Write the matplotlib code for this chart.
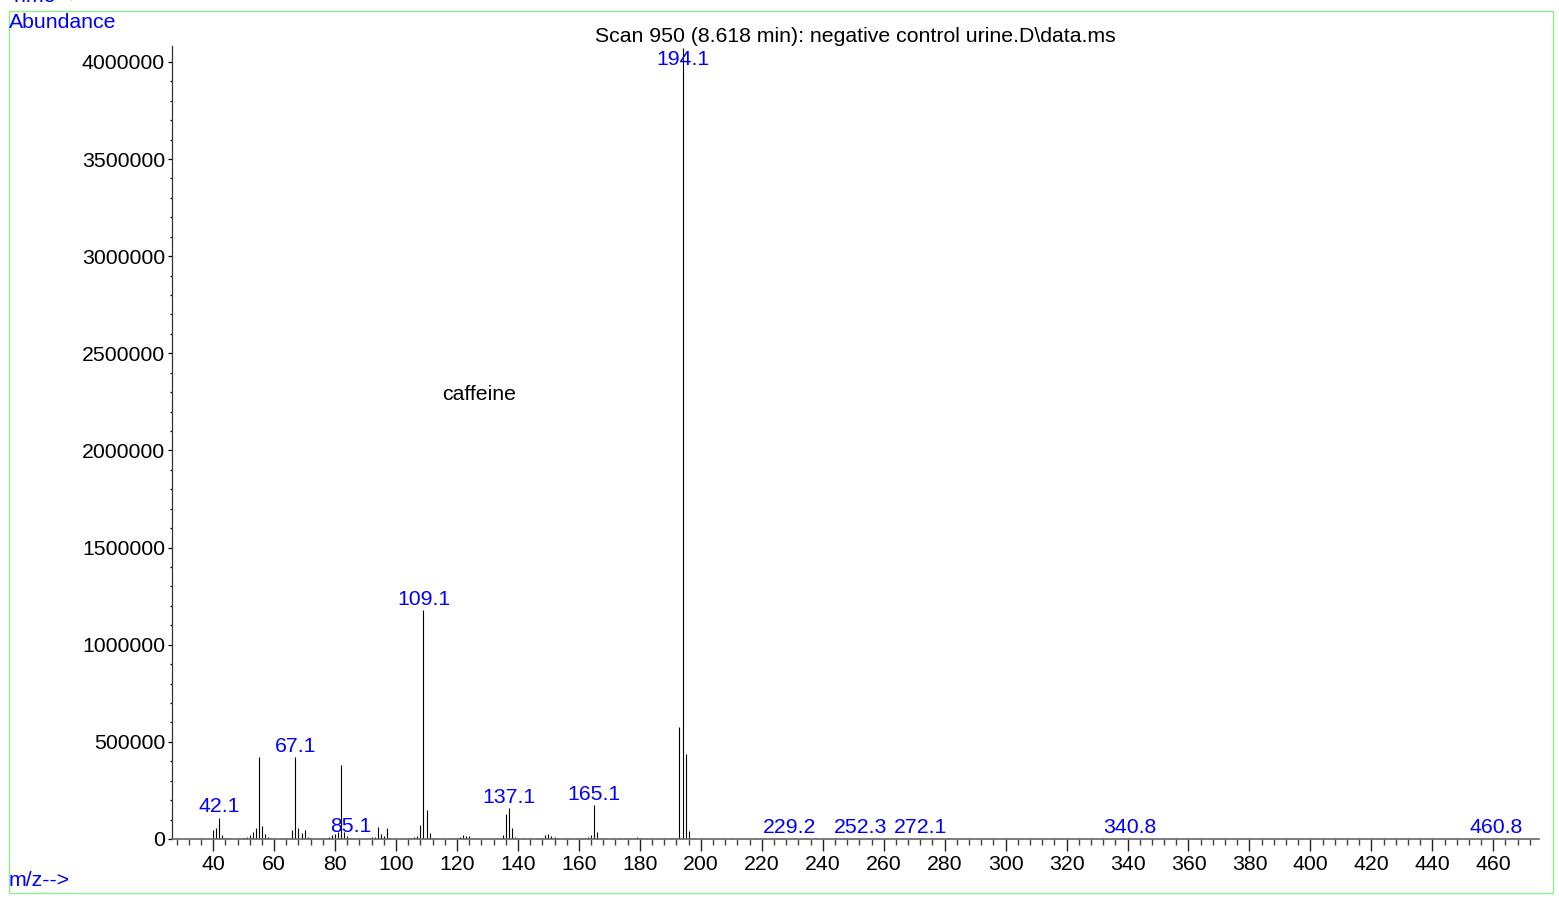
import matplotlib.pyplot as plt
from matplotlib.patches import Rectangle
from matplotlib.ticker import MultipleLocator, FormatStrFormatter

plt.rcParams['font.family'] = ['Liberation Sans', 'DejaVu Sans']

title = 'Scan 950 (8.618 min): negative control urine.D\\data.ms'

# main ion peaks (m/z, abundance)
mz = [40, 41, 42, 43,
      52, 53, 54, 55, 56, 57, 58,
      66, 67, 68, 69, 70, 71,
      78, 79, 80, 81, 82, 83, 84, 85,
      93, 94, 95, 96, 97,
      107, 108, 109, 110, 111,
      121, 122, 123, 124,
      135, 136, 137, 138, 139,
      149, 150, 151, 152,
      163, 164, 165, 166,
      179,
      193, 194, 195, 196,
      229.2, 252.3, 272.1, 340.8, 460.8]
abundance = [46000, 58000, 110000, 21000,
             22000, 38000, 57000, 422000, 67000, 26000, 12000,
             48000, 422000, 58000, 32000, 48000, 12000,
             12000, 20000, 26000, 38000, 381000, 38000, 15000, 6000,
             12000, 60000, 26000, 15000, 57000,
             15000, 74000, 1179000, 148000, 30000,
             10000, 22000, 15000, 18000,
             20000, 129000, 160000, 57000, 12000,
             19000, 26000, 15000, 12000,
             10000, 19000, 173000, 38000,
             8000,
             576000, 4070000, 438000, 42000,
             4000, 4000, 4000, 3000, 3000]

# small baseline noise peaks
noise_mz = [44, 45, 46, 48, 50, 51, 59, 60, 62, 64, 65, 72, 74, 76, 77,
            86, 88, 90, 91, 92, 98, 100, 102, 104, 105, 106,
            112, 113, 115, 117, 119, 120, 125, 127, 129, 131, 133, 134,
            140, 142, 144, 146, 148, 153, 155, 157, 159, 161, 162,
            167, 169, 171, 173, 175, 177, 178, 180, 182, 184, 186, 188, 190, 191, 192,
            198, 200, 203, 205, 207, 210, 213, 215, 218, 221, 223, 226,
            231, 235, 238, 241, 244, 247, 255, 258, 263, 267, 276, 281]
noise_ab = [6000, 5000, 4000, 5000, 4000, 8000, 6000, 4000, 5000, 4000, 7000, 6000, 5000, 4000, 7000,
            6000, 5000, 4000, 6000, 8000, 5000, 4000, 5000, 4000, 6000, 9000,
            7000, 5000, 4000, 6000, 5000, 7000, 6000, 5000, 4000, 5000, 4000, 7000,
            6000, 5000, 4000, 5000, 7000, 6000, 5000, 4000, 5000, 4000, 6000,
            6000, 5000, 4000, 5000, 4000, 5000, 6000, 5000, 4000, 5000, 4000, 5000, 4000, 6000, 7000,
            5000, 4000, 5000, 4000, 5000, 4000, 5000, 4000, 4000, 5000, 4000, 5000,
            4000, 5000, 4000, 4000, 5000, 4000, 4000, 5000, 4000, 4000, 4000, 4000]

# labelled peaks: label text, m/z position, abundance of the peak
label_text = ['42.1', '67.1', '85.1', '109.1', '137.1', '165.1', '194.1',
              '229.2', '252.3', '272.1', '340.8', '460.8']
label_mz = [42, 67, 85, 109, 137, 165, 194.2, 229.2, 252.3, 272.1, 340.8, 460.8]
label_ab = [110000, 422000, 6000, 1179000, 160000, 173000, 4070000,
            4000, 4000, 4000, 3000, 3000]

fs = 15.3

fig = plt.figure(figsize=(15.59, 8.99), dpi=100)
ax = fig.add_axes([172/1559, 60/899, 1367/1559, 793/899])

ax.vlines(noise_mz, 0, noise_ab, color='black', lw=0.8)
ax.vlines(mz, 0, abundance, color='black', lw=0.8)

ymax = 4082000
ax.set_xlim(26.5, 475)
ax.set_ylim(0, ymax)

for t, x, y in zip(label_text, label_mz, label_ab):
    if y > 0.95 * ymax:
        ax.text(x, 4010000, t, color='blue', fontsize=fs, ha='center', va='center')
    else:
        ax.annotate(t, (x, y), xytext=(0, 1), textcoords='offset points',
                    color='blue', fontsize=fs, ha='center', va='bottom')

ax.text(127.3, 2290000, 'caffeine', color='black', fontsize=fs, ha='center', va='center')

ax.spines['top'].set_visible(False)
ax.spines['right'].set_visible(False)
ax.spines['left'].set_color('#333333')
ax.spines['bottom'].set_color('#666666')
ax.spines['left'].set_linewidth(0.9)
ax.spines['bottom'].set_linewidth(1.2)

ax.xaxis.set_major_locator(MultipleLocator(20))
ax.xaxis.set_minor_locator(MultipleLocator(4))
ax.yaxis.set_major_locator(MultipleLocator(500000))
ax.yaxis.set_minor_locator(MultipleLocator(100000))
ax.yaxis.set_major_formatter(FormatStrFormatter('%d'))
ax.set_xticks(range(40, 461, 20))
ax.tick_params(axis='x', which='major', length=8.5, width=1, labelsize=fs, pad=3, color='#222222')
ax.tick_params(axis='x', which='minor', length=4.3, width=1, color='#444444')
ax.tick_params(axis='y', which='major', length=3, width=0.9, labelsize=fs, pad=2)
ax.tick_params(axis='y', which='minor', length=1.5, width=0.9)

fig.text(855/1559, 1 - 36/899, title, fontsize=fs, ha='center', va='center')
fig.text(9/1559, 1 + 3/899, 'Time-->', color='blue', fontsize=fs, ha='left', va='center')
fig.text(9/1559, 1 - 23/899, 'Abundance', color='blue', fontsize=fs, ha='left', va='center')
fig.text(9/1559, 1 - 881/899, 'm/z-->', color='blue', fontsize=fs, ha='left', va='center')

fig.patches.append(Rectangle((9/1559, 6/899), 1544/1559, 882/899, transform=fig.transFigure,
                             fill=False, edgecolor='#90ee90', lw=1))

fig.savefig('out.png', dpi=100)
